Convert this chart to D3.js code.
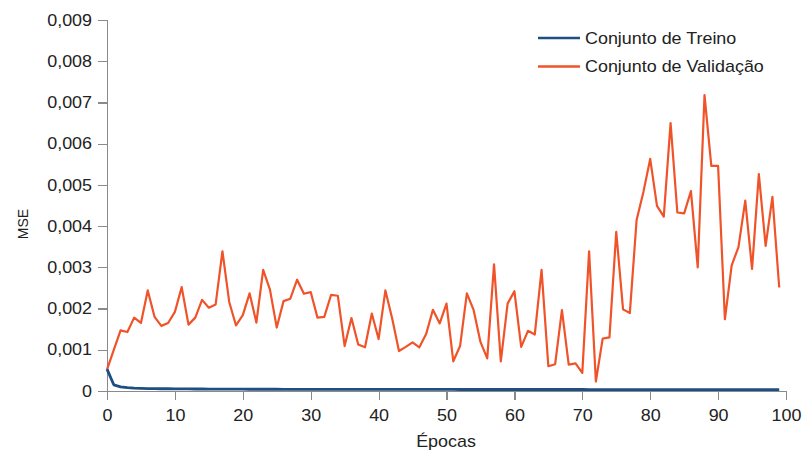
<!DOCTYPE html>
<html>
<head>
<meta charset="utf-8">
<script src="https://cdn.jsdelivr.net/npm/d3@7"></script>
<style>
  html, body { margin: 0; padding: 0; background: #fff; }
  svg { display: block; }
  text { font-family: "Liberation Sans", Arial, sans-serif; fill: #222; }
</style>
</head>
<body>
<svg id="chart" width="803" height="461"></svg>
<script>
// Training history: mean squared error per epoch
const epochs = d3.range(0, 100);

const treino = [
  0.00053, 0.00015, 0.00010, 0.00008, 0.00007, 0.000065, 0.00006, 0.00006, 0.000055, 0.000055,
  0.00005, 0.00005, 0.00005, 0.000048, 0.000048, 0.000046, 0.000046, 0.000045, 0.000045, 0.000044,
  0.000044, 0.000043, 0.000043, 0.000042, 0.000042, 0.000042, 0.000041, 0.000041, 0.000041, 0.00004,
  0.00004, 0.00004, 0.00004, 0.00004, 0.00004, 0.00004, 0.000039, 0.000039, 0.000039, 0.000039,
  0.000039, 0.000039, 0.000039, 0.000038, 0.000038, 0.000038, 0.000038, 0.000038, 0.000038, 0.000038,
  0.000038, 0.000037, 0.000037, 0.000037, 0.000037, 0.000037, 0.000037, 0.000037, 0.000037, 0.000037,
  0.000036, 0.000036, 0.000036, 0.000036, 0.000036, 0.000036, 0.000036, 0.000036, 0.000036, 0.000036,
  0.000036, 0.000035, 0.000035, 0.000035, 0.000035, 0.000035, 0.000035, 0.000035, 0.000035, 0.000035,
  0.000035, 0.000035, 0.000035, 0.000035, 0.000034, 0.000034, 0.000034, 0.000034, 0.000034, 0.000034,
  0.000034, 0.000034, 0.000034, 0.000034, 0.000034, 0.000034, 0.000034, 0.000034, 0.000034, 0.000034
];

const validacao = [
  0.00052, 0.00100, 0.00147, 0.00143, 0.00178, 0.00165, 0.00244, 0.00180, 0.00158, 0.00165,
  0.00192, 0.00252, 0.00161, 0.00178, 0.00221, 0.00202, 0.00210, 0.00339, 0.00216, 0.00159,
  0.00184, 0.00237, 0.00166, 0.00294, 0.00246, 0.00154, 0.00218, 0.00224, 0.00270, 0.00236,
  0.00240, 0.00178, 0.00180, 0.00233, 0.00231, 0.00109, 0.00177, 0.00113, 0.00106, 0.00188,
  0.00126, 0.00244, 0.00176, 0.00097, 0.00107, 0.00118, 0.00106, 0.00138, 0.00197, 0.00164,
  0.00212, 0.00072, 0.00109, 0.00237, 0.00196, 0.00119, 0.00079, 0.00307, 0.00072, 0.00212,
  0.00242, 0.00107, 0.00146, 0.00137, 0.00294, 0.00060, 0.00065, 0.00196, 0.00064, 0.00067,
  0.00044, 0.00339, 0.00023, 0.00127, 0.00130, 0.00386, 0.00198, 0.00189, 0.00415, 0.00483,
  0.00563, 0.00449, 0.00423, 0.00650, 0.00433, 0.00431, 0.00485, 0.00300, 0.00718, 0.00546,
  0.00546, 0.00174, 0.00305, 0.00349, 0.00462, 0.00296, 0.00526, 0.00352, 0.00471, 0.00251
];

const xTicks = [0, 10, 20, 30, 40, 50, 60, 70, 80, 90, 100];
const yTicks = [0, 0.001, 0.002, 0.003, 0.004, 0.005, 0.006, 0.007, 0.008, 0.009];

const seriesNames = ["Conjunto de Treino", "Conjunto de Validação"];
const seriesColors = ["#1d4f82", "#f0532a"];

const svg = d3.select("#chart");
const FONT = 16, SX = 1.12;   // slightly widened lettering

const x = d3.scaleLinear().domain([0, 100]).range([107, 786]);
const y = d3.scaleLinear().domain([0, 0.009]).range([391, 20]);

const ptBR = d3.formatLocale({ decimal: ",", thousands: ".", grouping: [3], currency: ["R$", ""] });
const fmt3 = ptBR.format(".3f");
const yFmt = v => v === 0 ? "0" : fmt3(v);

// Axes
const TS = 9, PAD = 6;
const gy = svg.append("g").attr("transform", `translate(${x(0)},0)`)
  .call(d3.axisLeft(y).tickValues(yTicks).tickFormat(yFmt).tickSize(TS).tickPadding(PAD));
gy.selectAll("text")
  .attr("x", -(TS + PAD) / SX)
  .attr("transform", `scale(${SX},1)`)
  .style("font-size", FONT + "px");

const gx = svg.append("g").attr("transform", `translate(0,${y(0)})`)
  .call(d3.axisBottom(x).tickValues(xTicks).tickFormat(d3.format("d")).tickSize(TS).tickPadding(10));
gx.selectAll("text")
  .attr("transform", `scale(${SX},1)`)
  .style("font-size", FONT + "px");

svg.selectAll(".domain, .tick line")
  .attr("stroke", "#8a8a8a").attr("stroke-width", 1.2).attr("shape-rendering", "crispEdges");

// Series lines
const line = vals => d3.line()
  .x((d, i) => x(epochs[i]))
  .y(d => y(d))(vals);

svg.append("path").attr("d", line(validacao))
  .attr("fill", "none").attr("stroke", seriesColors[1])
  .attr("stroke-width", 2.2).attr("stroke-linejoin", "round");

svg.append("path").attr("d", line(treino))
  .attr("fill", "none").attr("stroke", seriesColors[0])
  .attr("stroke-width", 2.8).attr("stroke-linejoin", "round");

// Axis titles
svg.append("text")
  .attr("transform", `translate(446,447) scale(${SX},1)`)
  .attr("text-anchor", "middle").style("font-size", FONT + "px")
  .text("Épocas");

svg.append("text")
  .attr("transform", `translate(28,224) rotate(-90)`)
  .attr("text-anchor", "middle").style("font-size", (FONT - 2) + "px")
  .text("MSE");

// Legend
const legend = svg.append("g");
seriesNames.forEach((name, i) => {
  const ly = 38 + i * 28.5;
  legend.append("line")
    .attr("x1", 538).attr("x2", 580).attr("y1", ly).attr("y2", ly)
    .attr("stroke", seriesColors[i]).attr("stroke-width", 2.6);
  legend.append("text")
    .attr("transform", `translate(585,${ly + 5.5}) scale(${SX},1)`)
    .style("font-size", FONT + "px")
    .text(name);
});
</script>
</body>
</html>
